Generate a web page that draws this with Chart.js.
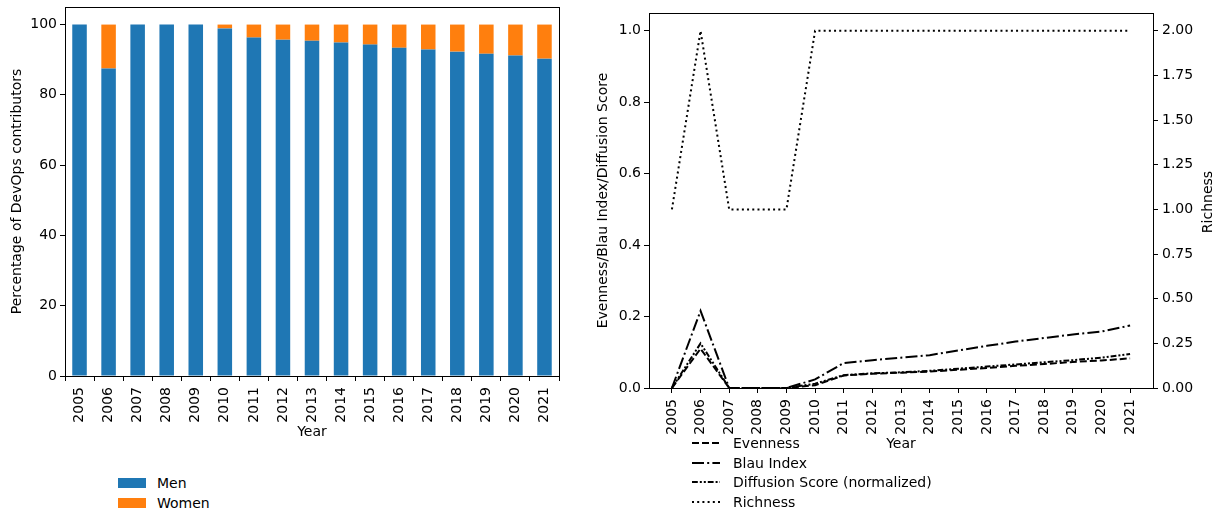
<!DOCTYPE html>
<html>
<head>
<meta charset="utf-8">
<script src="https://cdn.jsdelivr.net/npm/chart.js@4.4.0/dist/chart.umd.min.js"></script>
<style>
  body { margin: 0; background: #fff; width: 1219px; height: 513px; position: relative; overflow: hidden;
         font-family: "DejaVu Sans", sans-serif; font-size: 14px; color: #000; }
  canvas { position: absolute; }
  #barChart { left: 0; top: 0; }
  #lineChart { left: 590px; top: 0; }
  .leg { position: absolute; white-space: nowrap; line-height: 16px; }
  .sw { position: absolute; width: 28px; height: 10px; }
  .rot { position: absolute; transform: rotate(-90deg); transform-origin: center; white-space: nowrap; color: #000; }
</style>
</head>
<body>
<canvas id="barChart" width="600" height="450"></canvas>
<canvas id="lineChart" width="629" height="460"></canvas>

<!-- legend for the bar chart -->
<div class="sw" style="left:118px;top:478px;background:#1f77b4"></div>
<div class="leg" style="left:157px;top:475px">Men</div>
<div class="sw" style="left:118px;top:498px;background:#ff7f0e"></div>
<div class="leg" style="left:157px;top:495px">Women</div>

<!-- legend for the line chart -->
<svg style="position:absolute;left:690px;top:430px" width="34" height="80">
  <line x1="2" y1="13" x2="30" y2="13" stroke="#000" stroke-width="2" stroke-dasharray="7,3"/>
  <line x1="2" y1="33" x2="30" y2="33" stroke="#000" stroke-width="2" stroke-dasharray="12,3.2,2,3.2"/>
  <line x1="2" y1="52" x2="30" y2="52" stroke="#000" stroke-width="2" stroke-dasharray="5.8,2,2,2,2,2"/>
  <line x1="2" y1="72" x2="30" y2="72" stroke="#000" stroke-width="2" stroke-dasharray="2,3.2"/>
</svg>
<div class="leg" style="left:733px;top:435px">Evenness</div>
<div class="leg" style="left:733px;top:455px">Blau Index</div>
<div class="leg" style="left:733px;top:474px">Diffusion Score (normalized)</div>
<div class="leg" style="left:733px;top:494px">Richness</div>

<div class="rot" style="left:1167px;top:194px;width:80px;text-align:center;line-height:16px">Richness</div>

<script>
// data
const years = [2005, 2006, 2007, 2008, 2009, 2010, 2011, 2012, 2013, 2014, 2015, 2016, 2017, 2018, 2019, 2020, 2021];
const menPct = [100, 87.5, 100, 100, 100, 98.9, 96.3, 95.7, 95.4, 94.9, 94.3, 93.4, 92.9, 92.3, 91.7, 91.2, 90.3];
const womenPct = menPct.map(m => +(100 - m).toFixed(1));

const evenness = [0, 0.11, 0, 0, 0, 0.008, 0.035, 0.040, 0.043, 0.046, 0.051, 0.056, 0.062, 0.067, 0.073, 0.077, 0.083];
const blauIndex = [0, 0.216, 0, 0, 0, 0.024, 0.070, 0.078, 0.085, 0.092, 0.105, 0.118, 0.130, 0.140, 0.150, 0.158, 0.175];
const diffusion = [0, 0.125, 0, 0, 0, 0.012, 0.036, 0.041, 0.044, 0.048, 0.054, 0.060, 0.066, 0.072, 0.078, 0.085, 0.095];
const richness = [1, 2, 1, 1, 1, 2, 2, 2, 2, 2, 2, 2, 2, 2, 2, 2, 2];

Chart.defaults.font.family = '"DejaVu Sans", sans-serif';
Chart.defaults.font.size = 14;
Chart.defaults.color = '#000';

// draws the box round the plot area, like matplotlib spines
const frame = {
    id: 'frame',
    afterDraw(chart) {
        const a = chart.chartArea;
        const ctx = chart.ctx;
        ctx.save();
        ctx.strokeStyle = '#000';
        ctx.lineWidth = 1;
        ctx.strokeRect(Math.round(a.left) + 0.5, Math.round(a.top) + 0.5,
            Math.round(a.right - a.left), Math.round(a.bottom - a.top));
        ctx.restore();
    }
};

function tickGrid() {
    return { drawOnChartArea: false, drawTicks: true, tickLength: 5, tickColor: '#000', tickWidth: 1 };
}

// fixed axis sizes so the plot areas land where the reference has them
function fixSize(w, h) {
    return function (s) {
        if (w) s.width = w;
        if (h) s.height = h;
        s.paddingTop = 0;
        s.paddingBottom = 0;
    };
}

new Chart(document.getElementById('barChart'), {
    type: 'bar',
    data: {
        labels: years.map(String),
        datasets: [
            { label: 'Men', data: menPct, backgroundColor: '#1f77b4', categoryPercentage: 1, barPercentage: 0.5 },
            { label: 'Women', data: womenPct, backgroundColor: '#ff7f0e', categoryPercentage: 1, barPercentage: 0.5 }
        ]
    },
    options: {
        responsive: false,
        animation: false,
        devicePixelRatio: 1,
        layout: { padding: { left: 0, top: 7, right: 41, bottom: 0 } },
        plugins: { legend: { display: false }, tooltip: { enabled: false } },
        scales: {
            x: {
                stacked: true,
                grid: tickGrid(),
                border: { display: true, color: '#000' },
                ticks: { maxRotation: 90, minRotation: 90, autoSkip: false, padding: 6 },
                title: { display: true, text: 'Year', padding: { top: 0, bottom: 9.6 } },
                afterFit: fixSize(0, 74)
            },
            y: {
                stacked: true,
                min: 0, max: 105,
                grid: tickGrid(),
                border: { display: true, color: '#000' },
                ticks: { stepSize: 20, includeBounds: false, padding: 3 },
                title: { display: true, text: 'Percentage of DevOps contributors', padding: { top: 9, bottom: 0 } },
                afterFit: fixSize(65, 0)
            }
        }
    },
    plugins: [frame]
});

function lineSet(label, data, dash, axis) {
    return {
        label: label,
        data: years.map((y, i) => ({ x: y, y: data[i] })),
        borderColor: '#000',
        borderWidth: 2,
        borderDash: dash,
        pointRadius: 0,
        tension: 0,
        fill: false,
        yAxisID: axis
    };
}

new Chart(document.getElementById('lineChart'), {
    type: 'line',
    data: {
        datasets: [
            lineSet('Evenness', evenness, [7, 3], 'y'),
            lineSet('Blau Index', blauIndex, [12, 3.2, 2, 3.2], 'y'),
            lineSet('Diffusion Score (normalized)', diffusion, [5.8, 2, 2, 2, 2, 2], 'y'),
            lineSet('Richness', richness, [2, 3.2], 'y2')
        ]
    },
    options: {
        responsive: false,
        animation: false,
        devicePixelRatio: 1,
        layout: { padding: { left: 0, top: 13, right: 0, bottom: 0 } },
        plugins: { legend: { display: false }, tooltip: { enabled: false } },
        scales: {
            x: {
                type: 'linear',
                min: 2004.2, max: 2021.8,
                grid: tickGrid(),
                border: { display: true, color: '#000' },
                afterBuildTicks(s) { s.ticks = years.map(v => ({ value: v })); },
                ticks: { maxRotation: 90, minRotation: 90, autoSkip: false, padding: 6, callback: v => String(v) },
                title: { display: true, text: 'Year', padding: { top: 0, bottom: 7.6 } },
                afterFit: fixSize(0, 72)
            },
            y: {
                position: 'left',
                min: 0, max: 1.05,
                grid: tickGrid(),
                border: { display: true, color: '#000' },
                ticks: { stepSize: 0.2, includeBounds: false, padding: 3, callback: v => v.toFixed(1) },
                title: { display: true, text: 'Evenness/Blau Index/Diffusion Score', padding: { top: 4.6, bottom: 0 } },
                afterFit: fixSize(59, 0)
            },
            y2: {
                position: 'right',
                min: 0, max: 2.1,
                grid: tickGrid(),
                border: { display: true, color: '#000' },
                ticks: { stepSize: 0.25, includeBounds: false, padding: 4, callback: v => v.toFixed(2) },
                afterFit: fixSize(66, 0)
            }
        }
    },
    plugins: [frame]
});
</script>
</body>
</html>
